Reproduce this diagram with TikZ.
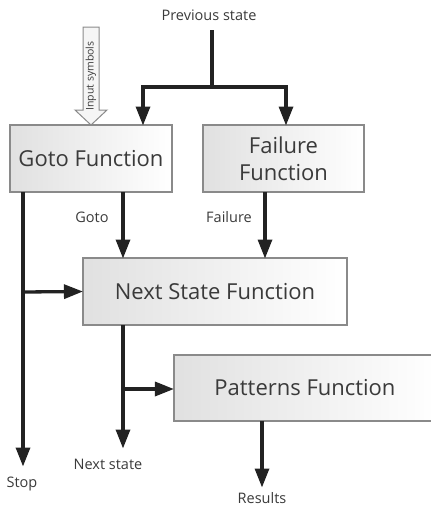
\documentclass[tikz,border=0pt]{standalone}
\usepackage{fontspec}
\setmainfont{Open Sans}
\usetikzlibrary{arrows.meta}
\definecolor{ink}{HTML}{222222}
\definecolor{txt}{HTML}{3A3A3A}
\definecolor{frame}{HTML}{8A8A8A}
\tikzset{
  fbox/.style={draw=frame, line width=1.1pt, left color=black!12, right color=white,
    minimum height=67pt, inner sep=0pt, text=txt, font=\fontsize{22}{27}\selectfont, align=center},
  lbl/.style={text=txt, font=\fontsize{14.5}{16}\selectfont, inner sep=0pt},
  wire/.style={draw=ink, line width=3.3pt},
  flow/.style={wire, -{Triangle[length=19pt, width=14pt]}, shorten >=-0.5pt},
}
\begin{document}
\begin{tikzpicture}[x=1pt, y=-1pt]
\useasboundingbox (0,0) rectangle (431,507);
\clip (0,0) rectangle (431,507);

% function blocks
\node[fbox, minimum width=162pt] (goto) at (91,158.5) {Goto Function};
\node[fbox, minimum width=161pt] (fail) at (283.5,158.5) {Failure\\Function};
\node[fbox, minimum width=264pt] (next) at (215,291.5) {Next State Function};
\node[fbox, minimum width=262pt, minimum height=66pt] (pat) at (305,388) {Patterns Function};

% previous state fan-out
\node[lbl] (prev) at (209,15) {Previous state};
\coordinate (ptop) at (212,30);
\coordinate (split) at (212,87);
\coordinate (gin) at (143,125);
\coordinate (fin) at (286,125);
\draw[wire] (ptop) -- (split);
\draw[flow] (split) -| (gin);
\draw[flow] (split) -| (fin);

% hollow input arrow
\draw[draw=frame, line width=1pt, fill=black!4]
  (83,27) -- (99,27) -- (99,110) -- (107,110) -- (91,125) -- (75,110) -- (83,110) -- cycle;
\node[lbl, rotate=90, font=\fontsize{10.5}{12}\selectfont] (inp) at (91,76) {Input symbols};

% goto and failure outputs
\coordinate (gout) at (123,192);
\coordinate (nin1) at (123,258);
\coordinate (fout) at (265,192);
\coordinate (nin2) at (265,258);
\draw[flow] (gout) -- (nin1);
\draw[flow] (fout) -- (nin2);
\node[lbl] (lgoto) at (92,217) {Goto};
\node[lbl] (lfail) at (229,217) {Failure};

% stop line with branch into next state
\coordinate (sout) at (23,192);
\coordinate (sbr) at (23,292);
\coordinate (send) at (23,466);
\draw[flow] (sout) -- (send);
\draw[flow] (sbr) -- (next.west);
\node[lbl] (lstop) at (22,484) {Stop};

% next state output with branch into patterns
\coordinate (nout) at (123,325);
\coordinate (nbr) at (123,389);
\coordinate (nend) at (123,448);
\draw[flow] (nout) -- (nend);
\draw[flow] (nbr) -- (nbr -| pat.west);
\node[lbl] (lnext) at (108,464) {Next state};

% results
\coordinate (pout) at (262,421);
\coordinate (pend) at (262,487);
\draw[flow] (pout) -- (pend);
\node[lbl] (lres) at (262,498) {Results};
\end{tikzpicture}
\end{document}
